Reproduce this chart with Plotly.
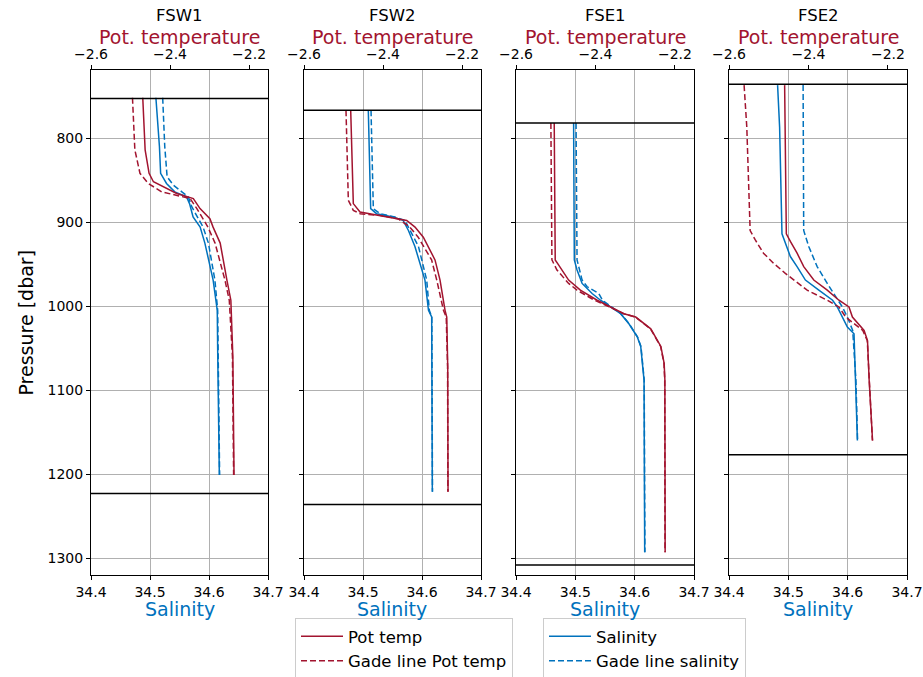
import plotly.graph_objects as go

RED = "#A2142F"
BLUE = "#0072BD"
FONT = "DejaVu Sans"

titles = ["FSW1", "FSW2", "FSE1", "FSE2"]
sal_ticks = [34.4, 34.5, 34.6, 34.7]
temp_ticks = [-2.6, -2.4, -2.2]
p_ticks = [800, 900, 1000, 1100, 1200, 1300]

# layer boundary lines (pressure, dbar)
top_lines = [753, 767, 782, 736]
bottom_lines = [1223, 1236, 1308, 1177]

# ---------------- FSW1 ----------------
fsw1_T_p = [752, 814, 842, 852, 866, 872, 884, 896, 906, 925, 969, 993, 1060, 1201]
fsw1_T = [-2.469, -2.463, -2.453, -2.442, -2.383, -2.341, -2.324, -2.299, -2.291, -2.273, -2.256, -2.246, -2.241, -2.238]
fsw1_Tg_p = [752, 814, 842, 854, 864, 868, 872, 884, 896, 906, 925, 969, 993, 1060, 1201]
fsw1_Tg = [-2.495, -2.489, -2.476, -2.455, -2.421, -2.383, -2.349, -2.332, -2.316, -2.304, -2.286, -2.261, -2.250, -2.242, -2.239]
fsw1_S_p = [752, 810, 842, 854, 864, 870, 878, 894, 906, 925, 969, 1005, 1052, 1201]
fsw1_S = [34.510, 34.516, 34.518, 34.528, 34.542, 34.562, 34.567, 34.573, 34.585, 34.593, 34.607, 34.614, 34.6147, 34.6175]
fsw1_Sg_p = [752, 810, 846, 856, 864, 870, 882, 906, 925, 969, 1005, 1060, 1201]
fsw1_Sg = [34.5215, 34.525, 34.529, 34.5395, 34.554, 34.565, 34.571, 34.590, 34.599, 34.610, 34.6147, 34.6155, 34.618]

# ---------------- FSW2 ----------------
fsw2_T_p = [767, 878, 888, 892, 896, 898, 906, 918, 945, 969, 1005, 1013, 1072, 1221]
fsw2_T = [-2.4818, -2.4752, -2.4582, -2.4076, -2.357, -2.340, -2.319, -2.298, -2.2684, -2.2557, -2.243, -2.2387, -2.2362, -2.2354]
fsw2_Tg_p = [767, 874, 886, 890, 892, 896, 906, 918, 945, 969, 1005, 1013, 1072, 1221]
fsw2_Tg = [-2.4937, -2.4878, -2.4752, -2.458, -2.408, -2.362, -2.332, -2.311, -2.277, -2.264, -2.247, -2.240, -2.2366, -2.2358]
fsw2_S_p = [767, 884, 890, 894, 898, 910, 929, 949, 969, 1005, 1013, 1221]
fsw2_S = [34.509, 34.513, 34.523, 34.551, 34.568, 34.577, 34.588, 34.597, 34.605, 34.611, 34.6164, 34.6175]
fsw2_Sg_p = [767, 884, 890, 894, 898, 929, 969, 1005, 1013, 1221]
fsw2_Sg = [34.5136, 34.5175, 34.529, 34.554, 34.571, 34.594, 34.608, 34.6124, 34.6166, 34.6178]

# ---------------- FSE1 ----------------
fse1_T_p = [782, 945, 951, 969, 981, 993, 1001, 1009, 1013, 1027, 1048, 1068, 1088, 1293]
fse1_T = [-2.5038, -2.5013, -2.4929, -2.4676, -2.438, -2.3957, -2.362, -2.3284, -2.2987, -2.2608, -2.2354, -2.2271, -2.2253, -2.2246]
fse1_Tg_p = [782, 945, 957, 973, 981, 993, 1001, 1009, 1013, 1027, 1048, 1068, 1088, 1293]
fse1_Tg = [-2.5122, -2.5096, -2.497, -2.4676, -2.4464, -2.4025, -2.3646, -2.329, -2.2995, -2.2615, -2.236, -2.2276, -2.2257, -2.2249]
fse1_S_p = [782, 945, 957, 973, 985, 993, 1001, 1009, 1021, 1037, 1048, 1088, 1293]
fse1_S = [34.4971, 34.4983, 34.5029, 34.5114, 34.5283, 34.5424, 34.5593, 34.5763, 34.5903, 34.6046, 34.6102, 34.6158, 34.6169]
fse1_Sg_p = [782, 945, 969, 977, 985, 993, 1001, 1009, 1021, 1037, 1048, 1088, 1293]
fse1_Sg = [34.5012, 34.5029, 34.5114, 34.520, 34.5395, 34.5458, 34.561, 34.5768, 34.5908, 34.605, 34.6106, 34.6161, 34.6172]

# ---------------- FSE2 ----------------
fse2_T_p = [737, 914, 923, 937, 953, 969, 981, 993, 1001, 1013, 1029, 1041, 1088, 1160]
fse2_T = [-2.460, -2.4557, -2.4456, -2.4286, -2.4119, -2.3866, -2.3527, -2.3233, -2.298, -2.2894, -2.260, -2.2514, -2.2473, -2.2387]
fse2_Tg_p = [737, 787, 910, 921, 937, 949, 961, 969, 981, 993, 1001, 1013, 1021, 1029, 1041, 1088, 1160]
fse2_Tg = [-2.562, -2.5552, -2.5468, -2.5342, -2.5132, -2.4879, -2.4582, -2.4354, -2.4033, -2.3527, -2.3233, -2.3063, -2.2853, -2.2633, -2.252, -2.2476, -2.239]
fse2_S_p = [737, 787, 914, 925, 941, 953, 969, 981, 993, 1001, 1009, 1025, 1033, 1088, 1160]
fse2_S = [34.4819, 34.4853, 34.4893, 34.4949, 34.5034, 34.5147, 34.5288, 34.5514, 34.5746, 34.5825, 34.5881, 34.5995, 34.6107, 34.6136, 34.6164]
fse2_Sg_p = [737, 910, 929, 953, 973, 985, 1001, 1013, 1029, 1088, 1160]
fse2_Sg = [34.5249, 34.5259, 34.5344, 34.5486, 34.5656, 34.5768, 34.591, 34.5995, 34.6085, 34.6139, 34.6167]

panels = [
    (fsw1_T_p, fsw1_T, fsw1_Tg_p, fsw1_Tg, fsw1_S_p, fsw1_S, fsw1_Sg_p, fsw1_Sg),
    (fsw2_T_p, fsw2_T, fsw2_Tg_p, fsw2_Tg, fsw2_S_p, fsw2_S, fsw2_Sg_p, fsw2_Sg),
    (fse1_T_p, fse1_T, fse1_Tg_p, fse1_Tg, fse1_S_p, fse1_S, fse1_Sg_p, fse1_Sg),
    (fse2_T_p, fse2_T, fse2_Tg_p, fse2_Tg, fse2_S_p, fse2_S, fse2_Sg_p, fse2_Sg),
]

W, H = 923, 677
x_px = [(91, 268), (304, 481), (516, 694), (729, 907)]
y_top, y_bot = 70, 575
ydom = [1 - y_bot / H, 1 - y_top / H]
DASH = "6px,3px"
TICK = 14
LAB = 19

fig = go.Figure()
layout = {}
annotations = []
shapes = []

for i, (Tp, T, Tgp, Tg, Sp, S, Sgp, Sg) in enumerate(panels):
    n = i + 1
    xs = "x" if n == 1 else f"x{n}"
    xt = f"x{n + 4}"
    ys = "y" if n == 1 else f"y{n}"
    first = n == 1
    fig.add_trace(go.Scatter(x=S, y=Sp, xaxis=xs, yaxis=ys, mode="lines",
                             line=dict(color=BLUE, width=1.5), name="Salinity",
                             legend="legend2", showlegend=first))
    fig.add_trace(go.Scatter(x=Sg, y=Sgp, xaxis=xs, yaxis=ys, mode="lines",
                             line=dict(color=BLUE, width=1.5, dash=DASH), name="Gade line salinity",
                             legend="legend2", showlegend=first))
    fig.add_trace(go.Scatter(x=T, y=Tp, xaxis=xt, yaxis=ys, mode="lines",
                             line=dict(color=RED, width=1.5), name="Pot temp",
                             legend="legend", showlegend=first))
    fig.add_trace(go.Scatter(x=Tg, y=Tgp, xaxis=xt, yaxis=ys, mode="lines",
                             line=dict(color=RED, width=1.5, dash=DASH), name="Gade line Pot temp",
                             legend="legend", showlegend=first))

    x0, x1 = x_px[i]
    dom = [x0 / W, x1 / W]
    cx = (dom[0] + dom[1]) / 2
    layout["xaxis" if n == 1 else f"xaxis{n}"] = dict(
        domain=dom, range=[34.4, 34.7], tickvals=sal_ticks,
        ticktext=[f"{v:.1f}" for v in sal_ticks], anchor=ys,
        showgrid=True, gridcolor="#b0b0b0", gridwidth=1,
        showline=True, mirror=True, linecolor="black", linewidth=1,
        ticks="outside", ticklen=4, tickcolor="black", zeroline=False, automargin=False,
        tickfont=dict(family=FONT, size=TICK, color="black"))
    layout[f"xaxis{n + 4}"] = dict(
        overlaying=xs, side="top", anchor=ys, range=[-2.6, -2.152],
        tickvals=temp_ticks, ticktext=[f"\u2212{abs(v):.1f}" for v in temp_ticks],
        showgrid=False, showline=False, zeroline=False, automargin=False,
        ticks="outside", ticklen=4, tickcolor="black",
        tickfont=dict(family=FONT, size=TICK, color="black"))
    yax = dict(
        domain=ydom, range=[1320, 719], tickvals=p_ticks, anchor=xs,
        showgrid=True, gridcolor="#b0b0b0", gridwidth=1,
        showline=True, mirror=True, linecolor="black", linewidth=1,
        ticks="outside", ticklen=4, tickcolor="black", zeroline=False, automargin=False,
        showticklabels=first, tickfont=dict(family=FONT, size=TICK, color="black"))
    if not first:
        yax["matches"] = "y"
    layout["yaxis" if n == 1 else f"yaxis{n}"] = yax

    annotations.append(dict(text=titles[i], x=cx, y=1 - 16 / H, xref="paper", yref="paper",
                            showarrow=False, xanchor="center", yanchor="middle",
                            font=dict(family=FONT, size=16.5, color="black")))
    annotations.append(dict(text="Pot. temperature", x=cx, y=1 - 37 / H, xref="paper", yref="paper",
                            showarrow=False, xanchor="center", yanchor="middle",
                            font=dict(family=FONT, size=LAB, color=RED)))
    annotations.append(dict(text="Salinity", x=cx, y=1 - 609 / H, xref="paper", yref="paper",
                            showarrow=False, xanchor="center", yanchor="middle",
                            font=dict(family=FONT, size=LAB, color=BLUE)))
    for pv in (top_lines[i], bottom_lines[i]):
        shapes.append(dict(type="line", xref=f"{xs} domain", yref=ys, x0=0, x1=1, y0=pv, y1=pv,
                           line=dict(color="black", width=1.5), layer="above"))

annotations.append(dict(text="Pressure [dbar]", x=25 / W, y=1 - (y_top + y_bot) / 2 / H,
                        xref="paper", yref="paper", showarrow=False, textangle=-90,
                        xanchor="center", yanchor="middle",
                        font=dict(family=FONT, size=LAB, color="black")))

legend_common = dict(bgcolor="white", bordercolor="#cccccc", borderwidth=1,
                     font=dict(family=FONT, size=16.5, color="black"),
                     xanchor="left", yanchor="top", tracegroupgap=0, itemwidth=42)
layout["legend"] = dict(x=295 / W, y=1 - 618 / H, **legend_common)
layout["legend2"] = dict(x=543 / W, y=1 - 618 / H, **legend_common)

fig.update_layout(**layout)
fig.update_layout(width=W, height=H, margin=dict(l=0, r=0, t=0, b=0, autoexpand=False),
                  paper_bgcolor="white", plot_bgcolor="white",
                  annotations=annotations, shapes=shapes,
                  font=dict(family=FONT))
fig.write_html("out.html")
